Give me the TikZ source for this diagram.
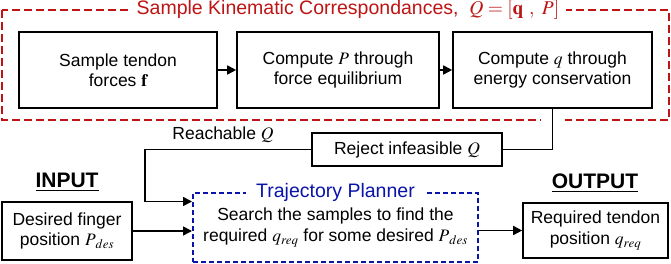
\documentclass[tikz,border=0pt]{standalone}
\usepackage{mathptmx}
\usepackage{fontspec}
\setmainfont{Liberation Sans}
\usetikzlibrary{arrows.meta,calc}
\definecolor{kred}{RGB}{190,20,20}
\definecolor{kblue}{RGB}{10,20,170}
\begin{document}
\begin{tikzpicture}[x=1pt,y=-1pt, font=\fontsize{17.5}{20.5}\selectfont,
  box/.style={draw, line width=1.6pt, align=center, inner sep=0pt},
  arr/.style={line width=1.6pt, -{Triangle[length=9pt,width=9pt]}},
  conn/.style={line width=1.6pt},
  grouplabel/.style={fill=white, inner ysep=1pt, font=\fontsize{19.5}{20}\selectfont},
  hdr/.style={font=\fontsize{21}{21}\selectfont\bfseries}]
\useasboundingbox (0,0) rectangle (671,264);
% red sampling group
\draw[kred, line width=2pt, dash pattern=on 8pt off 4pt] (2,10) rectangle (669,120);
\node[grouplabel, text=kred, inner xsep=7pt] (kinlabel) at (348,10)
  {Sample Kinematic Correspondances, \ $Q=[\mathbf{q}\ ,\ P]$};
\node[box, minimum width=198pt, minimum height=76pt] (b1) at (118,70) {Sample tendon\\forces $\mathbf{f}$};
\node[box, minimum width=202pt, minimum height=76pt] (b2) at (338,70) {Compute $P$ through\\force equilibrium};
\node[box, minimum width=199pt, minimum height=76pt] (b3) at (552.5,70) {Compute $q$ through\\energy conservation};
\draw[arr] (b1) -- (b2);
\draw[arr] (b2) -- (b3);
% reject
\node[box, minimum width=190pt, minimum height=33pt] (rej) at (407,149.5) {Reject infeasible $Q$};
\draw[white, line width=4pt] (541,120) -- (565,120);
\draw[conn] (b3.south) |- (rej.east);
% planner
\node[draw=kblue, line width=2pt, dash pattern=on 5pt off 3pt, minimum width=285pt, minimum height=69pt, align=center, inner sep=0pt] (plan) at (335.5,227.5)
  {Search the samples to find the\\required $q_{req}$ for some desired $P{}_{des}$};
\node[grouplabel, text=kblue, inner xsep=10pt] (planlabel) at (plan.north) {Trajectory Planner};
\coordinate (turn) at (145,149);
\draw[arr] (rej.west) -- (rej.west -| turn) |- ($(plan.west)+(0,-26)$);
\node[fill=white, inner sep=1pt] (reach) at (223,135) {Reachable $Q$};
% input / output
\node[hdr] (inlab) at (67,182) {\underline{INPUT}};
\node[box, minimum width=130pt, minimum height=58pt] (inbox) at (67,231) {Desired finger\\position $P{}_{des}$};
\draw[arr] (inbox.east) -- (inbox.east -| plan.west);
\node[hdr] (outlab) at (595,183) {\underline{OUTPUT}};
\node[box, minimum width=145pt, minimum height=55pt] (outbox) at (595.5,230.5) {Required tendon\\position $q_{req}$};
\draw[arr] (plan.east |- outbox.west) -- (outbox.west);
\end{tikzpicture}
\end{document}
